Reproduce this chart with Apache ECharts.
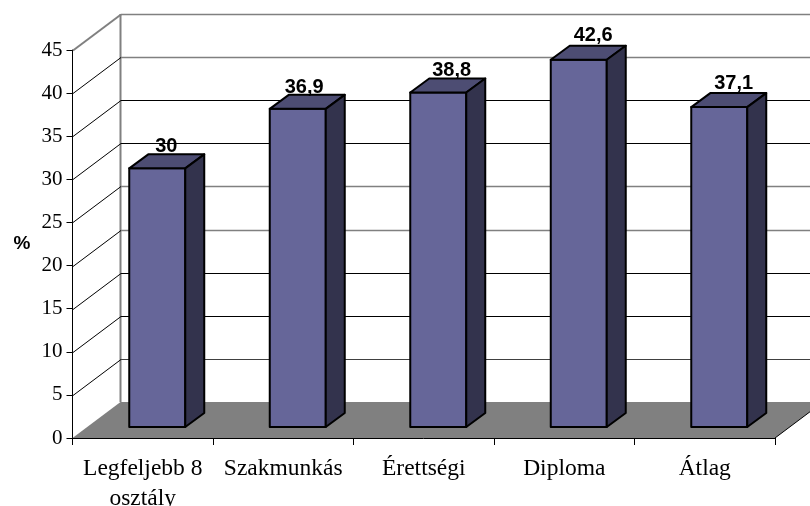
<!DOCTYPE html>
<html><head><meta charset="utf-8">
<style>html,body{margin:0;padding:0;background:#fff}#c{width:810px;height:506px}</style>
<script src="https://cdn.jsdelivr.net/npm/echarts@6/dist/echarts.min.js"></script>
</head><body><div id="c"></div>
<script>
const categories = ['Legfeljebb 8\nosztály', 'Szakmunkás', 'Érettségi', 'Diploma', 'Átlag'];
const values = [30, 36.9, 38.8, 42.6, 37.1];
const valueLabels = ['30', '36,9', '38,8', '42,6', '37,1'];
const tickValues = [0, 5, 10, 15, 20, 25, 30, 35, 40, 45];

const DX = 48, DY = -36;           // depth of the whole chart box
const BAR_W = 56, BAR_DX = 19, BAR_DY = -14;
const GREY = '#808080', INK = '#000';
const wallColor = {45: GREY, 40: GREY, 35: INK, 30: INK, 25: GREY, 20: GREY, 15: INK, 10: INK, 5: '#404040'};
const labelNudge = [[3, 4], [-8, 5], [-1, 4], [0, 2], [0, 2]];

const chart = echarts.init(document.getElementById('c'), null, {renderer: 'canvas'});
const pts = a => ({points: a});

chart.setOption({
  animation: false,
  backgroundColor: '#fff',
  grid: {left: 72.5, right: 35, top: 50, bottom: 68, containLabel: false, outerBoundsMode: 'none'},
  xAxis: {
    type: 'category', data: categories, boundaryGap: true,
    axisLine: {show: true, lineStyle: {color: '#000', width: 1}},
    axisTick: {show: true, length: 7, alignWithLabel: false, lineStyle: {color: '#000'}},
    axisLabel: {color: '#000', fontFamily: 'Liberation Serif', fontSize: 23.5, margin: 15.5, lineHeight: 30, interval: 0}
  },
  yAxis: {
    type: 'value', min: 0, max: 45, interval: 5,
    name: '%', nameLocation: 'middle', nameRotate: 0, nameGap: 42, nameMoveOverlap: false,
    nameTextStyle: {fontFamily: 'Liberation Sans', fontWeight: 'bold', fontSize: 19, color: '#000', padding: [8, 0, 0, 0]},
    axisLine: {show: true, lineStyle: {color: '#000', width: 1}},
    axisTick: {show: true, length: 6, lineStyle: {color: '#000'}},
    axisLabel: {color: '#000', fontFamily: 'Liberation Serif', fontSize: 21, margin: 10},
    splitLine: {show: false}
  },
  series: [
    { // floor and back wall
      type: 'custom', coordinateSystem: 'cartesian2d', clip: false, z: 1, silent: true,
      data: [0],
      renderItem(params, api) {
        const band = api.size([1, 0])[0];
        const p0 = api.coord([0, 0]), pT = api.coord([0, 45]);
        const x0 = p0[0] - band / 2, xE = x0 + band * categories.length, y0 = p0[1], yT = pT[1];
        return {type: 'group', children: [
          {type: 'polygon', shape: pts([[x0, y0], [x0 + DX, y0 + DY], [xE + DX, y0 + DY], [xE, y0]]),
           style: {fill: GREY, stroke: null}},
          {type: 'line', shape: {x1: x0 + DX, y1: yT + DY, x2: x0 + DX, y2: y0 + DY},
           style: {stroke: GREY, lineWidth: 2}},
          {type: 'line', shape: {x1: xE, y1: y0, x2: xE + DX, y2: y0 + DY},
           style: {stroke: INK, lineWidth: 1}}
        ]};
      }
    },
    { // grid lines running along side wall and back wall
      type: 'custom', coordinateSystem: 'cartesian2d', clip: false, z: 2, silent: true,
      data: tickValues.filter(v => v > 0).map(v => [0, v]),
      encode: {x: 0, y: 1},
      renderItem(params, api) {
        const v = api.value(1), band = api.size([1, 0])[0];
        const p = api.coord([0, v]);
        const x0 = Math.round(p[0] - band / 2) , y = Math.round(p[1]) + 0.5;
        const c = wallColor[v];
        const w = c === GREY ? 1.5 : 1;
        return {type: 'group', children: [
          {type: 'line', shape: {x1: x0, y1: y, x2: x0 + DX, y2: y + DY},
           style: {stroke: v === 45 ? GREY : INK, lineWidth: v === 45 ? 2 : 1}},
          {type: 'line', shape: {x1: x0 + DX, y1: y + DY, x2: x0 + DX + band * categories.length, y2: y + DY},
           style: {stroke: c, lineWidth: w}}
        ]};
      }
    },
    { // 3D bars
      type: 'custom', coordinateSystem: 'cartesian2d', clip: false, z: 3, silent: true,
      data: values.map((v, i) => [i, v]),
      encode: {x: 0, y: 1},
      renderItem(params, api) {
        const i = api.value(0), v = api.value(1);
        const base = api.coord([i, 0]), top = api.coord([i, v]);
        const ox = (DX - BAR_DX) / 2, oy = (DY - BAR_DY) / 2;
        const l = base[0] - BAR_W / 2 + ox, r = l + BAR_W;
        const b = base[1] + oy, t = top[1] + oy;
        const line = {stroke: '#000', lineWidth: 2, lineJoin: 'round'};
        const n = labelNudge[params.dataIndex];
        return {type: 'group', children: [
          {type: 'polygon', shape: pts([[l, t], [r, t], [r, b], [l, b]]), style: {fill: '#666699', ...line}},
          {type: 'polygon', shape: pts([[l, t], [l + BAR_DX, t + BAR_DY], [r + BAR_DX, t + BAR_DY], [r, t]]), style: {fill: '#4d4d73', ...line}},
          {type: 'polygon', shape: pts([[r, t], [r + BAR_DX, t + BAR_DY], [r + BAR_DX, b + BAR_DY], [r, b]]), style: {fill: '#33334d', ...line}},
          {type: 'text', z2: 5, style: {text: valueLabels[params.dataIndex], x: l + 23 + n[0], y: t + BAR_DY - 2 + n[1],
            fontFamily: 'Liberation Sans', fontWeight: 'bold', fontSize: 20, fill: '#000',
            textAlign: 'left', textVerticalAlign: 'bottom'}}
        ]};
      }
    }
  ]
});
</script></body></html>
